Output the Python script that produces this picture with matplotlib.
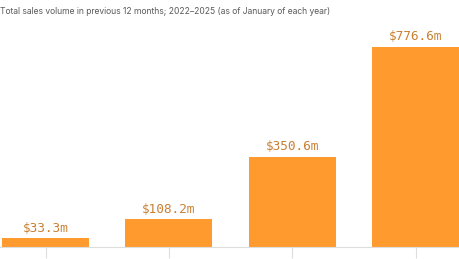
import matplotlib
matplotlib.use("Agg")
import matplotlib.pyplot as plt

years = ['2022', '2023', '2024', '2025']
sales = [33.3, 108.2, 350.6, 776.6]
labels = ['$33.3m', '$108.2m', '$350.6m', '$776.6m']

bar_color = '#FF9A2E'
label_color = '#C98032'

fig = plt.figure(figsize=(4.6, 2.59), dpi=100)
ax = fig.add_axes([0, 12 / 259, 1, 217 / 259])

x = range(len(years))
bars = ax.bar(x, sales, width=0.705, color=bar_color, zorder=2)
for b, lab in zip(bars, labels):
    ax.annotate(lab, (b.get_x() + b.get_width() / 2, b.get_height()),
                xytext=(0, 2.5), textcoords='offset points',
                ha='center', va='bottom', color=label_color,
                fontsize=9.2, family='DejaVu Sans Mono')

ax.set_xlim(-0.37, 3.36)
ax.set_ylim(0, 842)
ax.set_xticks(list(x))
ax.set_xticklabels([])
ax.tick_params(axis='x', length=8, color='#dddddd')
ax.set_yticks([])
for s in ['top', 'left', 'right']:
    ax.spines[s].set_visible(False)
ax.spines['bottom'].set_color('#dddddd')
ax.spines['bottom'].set_linewidth(0.8)

fig.text(0.0, 1 - 12 / 259, 'Total sales volume in previous 12 months; 2022–2025 (as of January of each year)',
         ha='left', va='center', fontsize=6.15, color='#5a5a5a', family='Inter')

fig.savefig('out.png', dpi=100)
